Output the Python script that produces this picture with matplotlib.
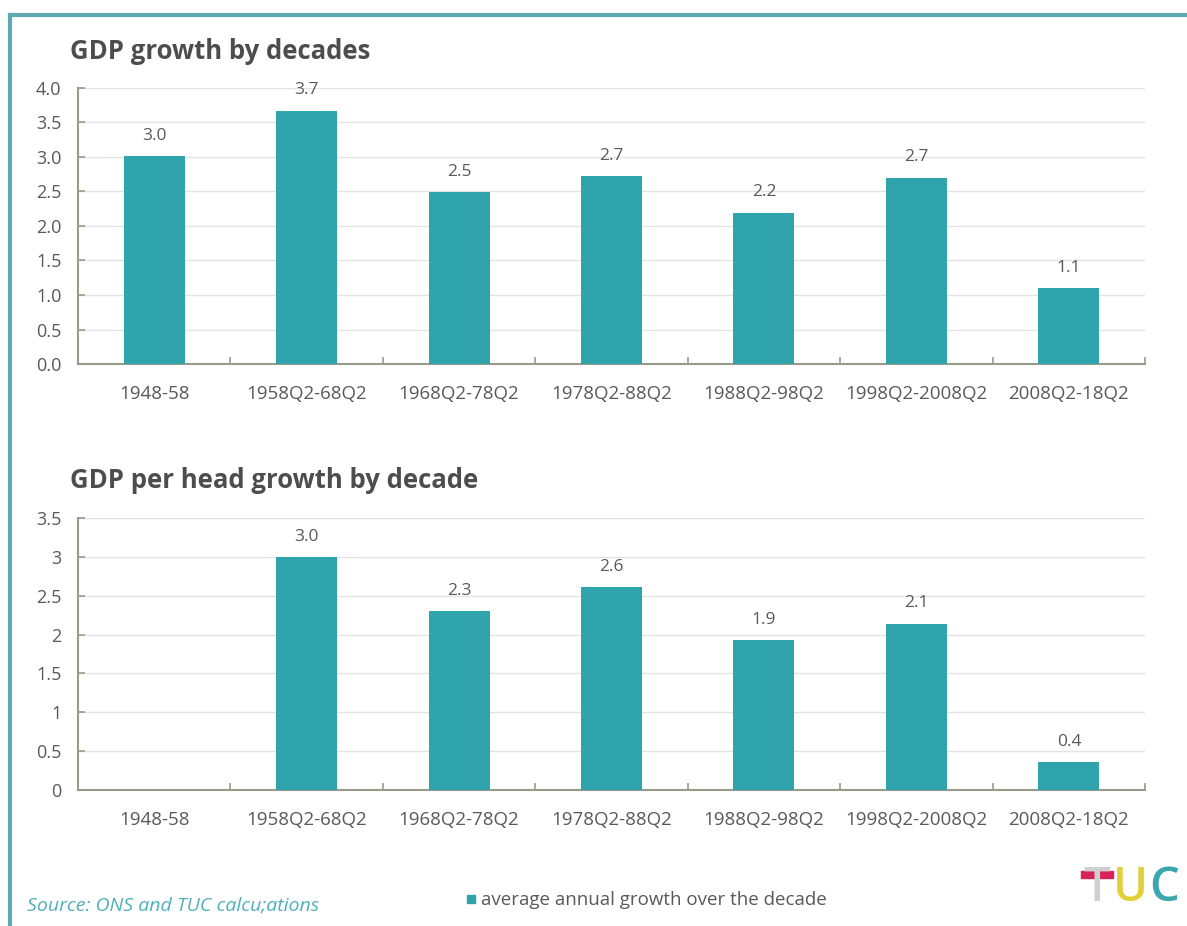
import numpy as np
import matplotlib.pyplot as plt
from matplotlib.lines import Line2D
from matplotlib.patches import Rectangle

plt.rcParams['font.family'] = ['Open Sans', 'DejaVu Sans']

decades = ["1948-58", "1958Q2-68Q2", "1968Q2-78Q2", "1978Q2-88Q2",
           "1988Q2-98Q2", "1998Q2-2008Q2", "2008Q2-18Q2"]
gdp_growth = [3.01, 3.67, 2.49, 2.72, 2.19, 2.70, 1.10]
gdp_per_head = [np.nan, 3.00, 2.30, 2.61, 1.93, 2.14, 0.36]

top_ticks = [0.0, 0.5, 1.0, 1.5, 2.0, 2.5, 3.0, 3.5, 4.0]
top_ticklabels = ["0.0", "0.5", "1.0", "1.5", "2.0", "2.5", "3.0", "3.5", "4.0"]
bottom_ticks = [0, 0.5, 1, 1.5, 2, 2.5, 3, 3.5]
bottom_ticklabels = ["0", "0.5", "1", "1.5", "2", "2.5", "3", "3.5"]

bar_col = '#2fa4ad'
txt_col = '#595959'
teal = '#5fa9b0'

fig = plt.figure(figsize=(11.87, 9.26), dpi=100)
ax1 = fig.add_axes([0.0657, 0.6069, 0.899, 0.2981])
ax2 = fig.add_axes([0.0657, 0.1469, 0.899, 0.2937])


def draw_panel(ax, vals, ticks, ticklabels, ymax):
    x = np.arange(len(decades))
    ax.bar(x, vals, width=0.4, color=bar_col, zorder=3)
    for xi, v in zip(x, vals):
        if np.isnan(v):
            continue
        ax.text(xi, v + ymax * 0.045, f"{v:.1f}", ha='center', va='bottom',
                fontsize=12.5, color=txt_col)
    ax.set_xlim(-0.5, len(decades) - 0.5)
    ax.set_ylim(0, ymax)
    ax.set_yticks(ticks)
    ax.set_yticklabels(ticklabels)
    ax.set_xticks(x)
    ax.set_xticklabels(decades)
    ax.set_xticks(np.arange(len(decades) + 1) - 0.5, minor=True)
    ax.grid(axis='y', color='#e3e3e3', lw=1, zorder=0)
    for s in ['top', 'right']:
        ax.spines[s].set_visible(False)
    for s in ['left', 'bottom']:
        ax.spines[s].set_color('#9a9a8a')
        ax.spines[s].set_linewidth(1.5)
    ax.tick_params(axis='x', which='major', length=0, pad=15,
                   labelsize=13.5, labelcolor=txt_col)
    ax.tick_params(axis='x', which='minor', length=5, direction='in',
                   color='#9a9a8a', width=1.2)
    ax.tick_params(axis='y', length=5, direction='in', color='#9a9a8a',
                   width=1.2, pad=12, labelsize=13, labelcolor=txt_col)


draw_panel(ax1, gdp_growth, top_ticks, top_ticklabels, 4.0)
draw_panel(ax2, gdp_per_head, bottom_ticks, bottom_ticklabels, 3.5)

fig.text(0.059, 0.944, "GDP growth by decades", fontsize=18.5,
         fontweight='bold', color='#4d4d4d', va='center')
fig.text(0.059, 0.481, "GDP per head growth by decade", fontsize=18.5,
         fontweight='bold', color='#4d4d4d', va='center')

# frame lines
fig.add_artist(Line2D([0.0085, 1.0], [0.984, 0.984], color=teal, lw=3))
fig.add_artist(Line2D([0.0085, 0.0085], [0.0, 0.984], color=teal, lw=3))

# footer
fig.text(0.023, 0.022, "Source: ONS and TUC calcu;ations", fontsize=14,
         style='italic', color='#4fb0ba', va='center')
fig.add_artist(Rectangle((0.3935, 0.0245), 0.0068, 0.0085,
                         transform=fig.transFigure, color=bar_col))
fig.text(0.405, 0.028, "average annual growth over the decade", fontsize=13.5,
         color=txt_col, va='center')

# logo
fig.text(0.924, 0.040, "T", fontsize=34, fontweight='semibold',
         color='#cfcfcf', ha='center', va='center')
fig.add_artist(Rectangle((0.9105, 0.0515), 0.027, 0.0075,
                         transform=fig.transFigure, color='#d6245a'))
fig.text(0.952, 0.040, "U", fontsize=34, fontweight='semibold',
         color='#e3cf3a', ha='center', va='center')
fig.text(0.981, 0.040, "C", fontsize=34, fontweight='semibold',
         color='#3aa6b0', ha='center', va='center')

fig.savefig('out.png', dpi=100)
